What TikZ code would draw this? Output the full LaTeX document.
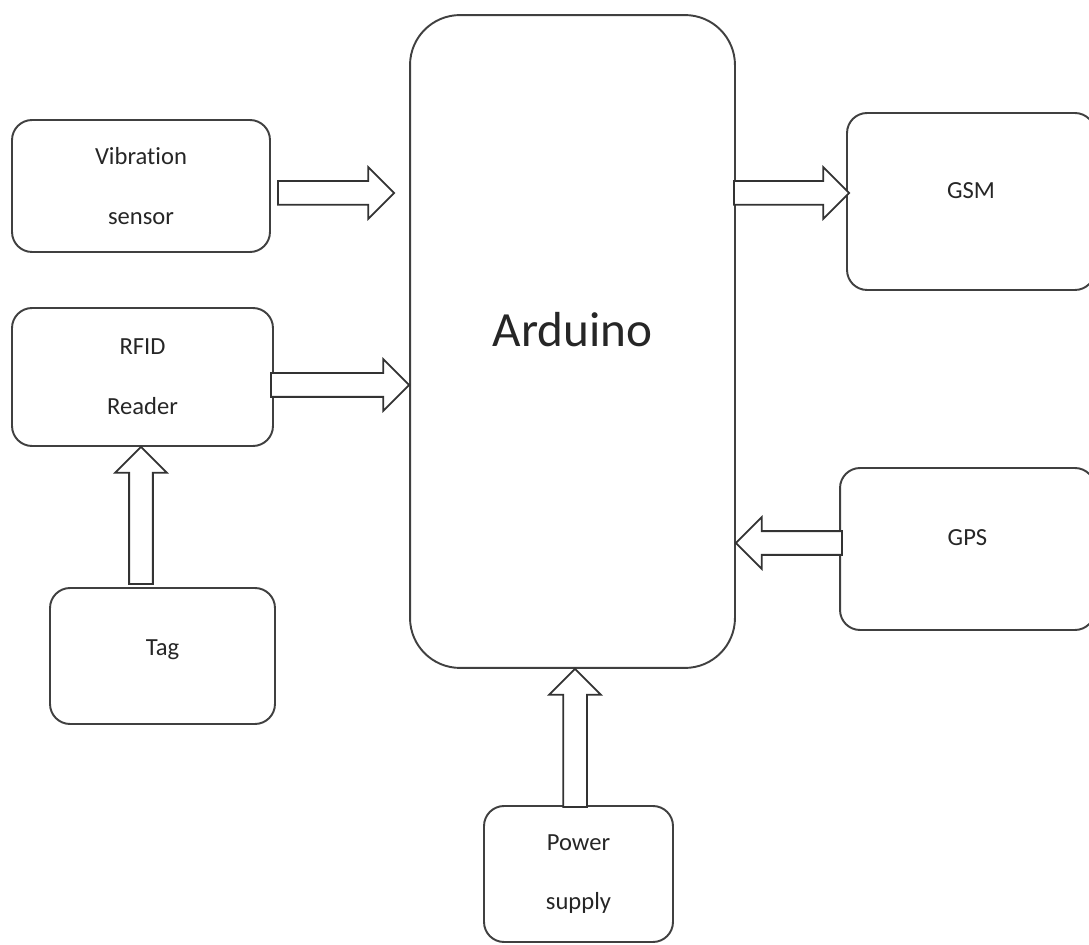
\documentclass[tikz,border=0pt]{standalone}
\usepackage{fontspec}
\setmainfont{Carlito}[Ligatures=NoCommon]
\usetikzlibrary{calc}
\usetikzlibrary{shapes.arrows}

\tikzset{
  blk/.style={draw=black!75, line width=1.1pt, rounded corners=0.4cm, align=center,
    text=black!85, font=\fontsize{14}{34}\selectfont},
  fat/.style={single arrow, draw=black!80, line width=1pt, fill=white, inner sep=0.22cm,
    outer sep=0pt, single arrow head extend=0.28cm, sloped, allow upside down, pos=0, anchor=tail}
}
\newcommand{\fatarrow}[2]{%
  \path let \p1=($(#2)-(#1)$), \n1={veclen(\x1,\y1)} in
    (#1) -- (#2) node[fat, minimum height=\n1] {};}

\begin{document}
\begin{tikzpicture}[x=0.02cm, y=-0.02cm]
\useasboundingbox (0,0) rectangle (1089,945);
\clip (0,0) rectangle (1089,945);
% blocks
\node[blk, rounded corners=1cm, minimum width=6.5cm, minimum height=13.06cm,
  font=\fontsize{28}{34}\selectfont, text depth=13.6pt] (ard) at (572.5,341.5) {Arduino};
\node[blk, minimum width=5.16cm, minimum height=2.64cm] (vib) at (141,186) {Vibration\\sensor};
\node[blk, minimum width=5.22cm, minimum height=2.76cm] (rfid) at (142.5,377) {RFID\\Reader};
\node[blk, minimum width=4.5cm, minimum height=2.72cm, text depth=9.7pt] (tag) at (162.5,656) {Tag};
\node[blk, minimum width=3.78cm, minimum height=2.72cm] (pwr) at (578.5,874) {Power\\supply};
\node[blk, minimum width=4.96cm, minimum height=3.54cm, text depth=12.5pt] (gsm) at (971,201.5) {GSM};
\node[blk, minimum width=5.1cm, minimum height=3.24cm, text depth=13.6pt] (gps) at (967.5,549) {GPS};
% arrow ends
\path ([shift={(7,7)}]vib.east) coordinate (vib-o);
\path (vib-o -| ard.west) ++(-15,0) coordinate (vib-i);
\path ([shift={(-3,8)}]rfid.east) coordinate (rfid-o);
\path (rfid-o -| ard.west) coordinate (rfid-i);
\path ([shift={(-21.5,-3)}]tag.north) coordinate (tag-o);
\path (tag-o |- rfid.south) coordinate (tag-i);
\path ([shift={(-3.5,2)}]pwr.north) coordinate (pwr-o);
\path (pwr-o |- ard.south) coordinate (pwr-i);
\path ([shift={(3,-8.5)}]gsm.west) coordinate (gsm-i);
\path (gsm-i -| ard.east) ++(-2,0) coordinate (gsm-o);
\path ([shift={(3,-6)}]gps.west) coordinate (gps-o);
\path (gps-o -| ard.east) coordinate (gps-i);
% block arrows
\fatarrow{vib-o}{vib-i}
\fatarrow{rfid-o}{rfid-i}
\fatarrow{tag-o}{tag-i}
\fatarrow{pwr-o}{pwr-i}
\fatarrow{gsm-o}{gsm-i}
\fatarrow{gps-o}{gps-i}
\end{tikzpicture}
\end{document}
